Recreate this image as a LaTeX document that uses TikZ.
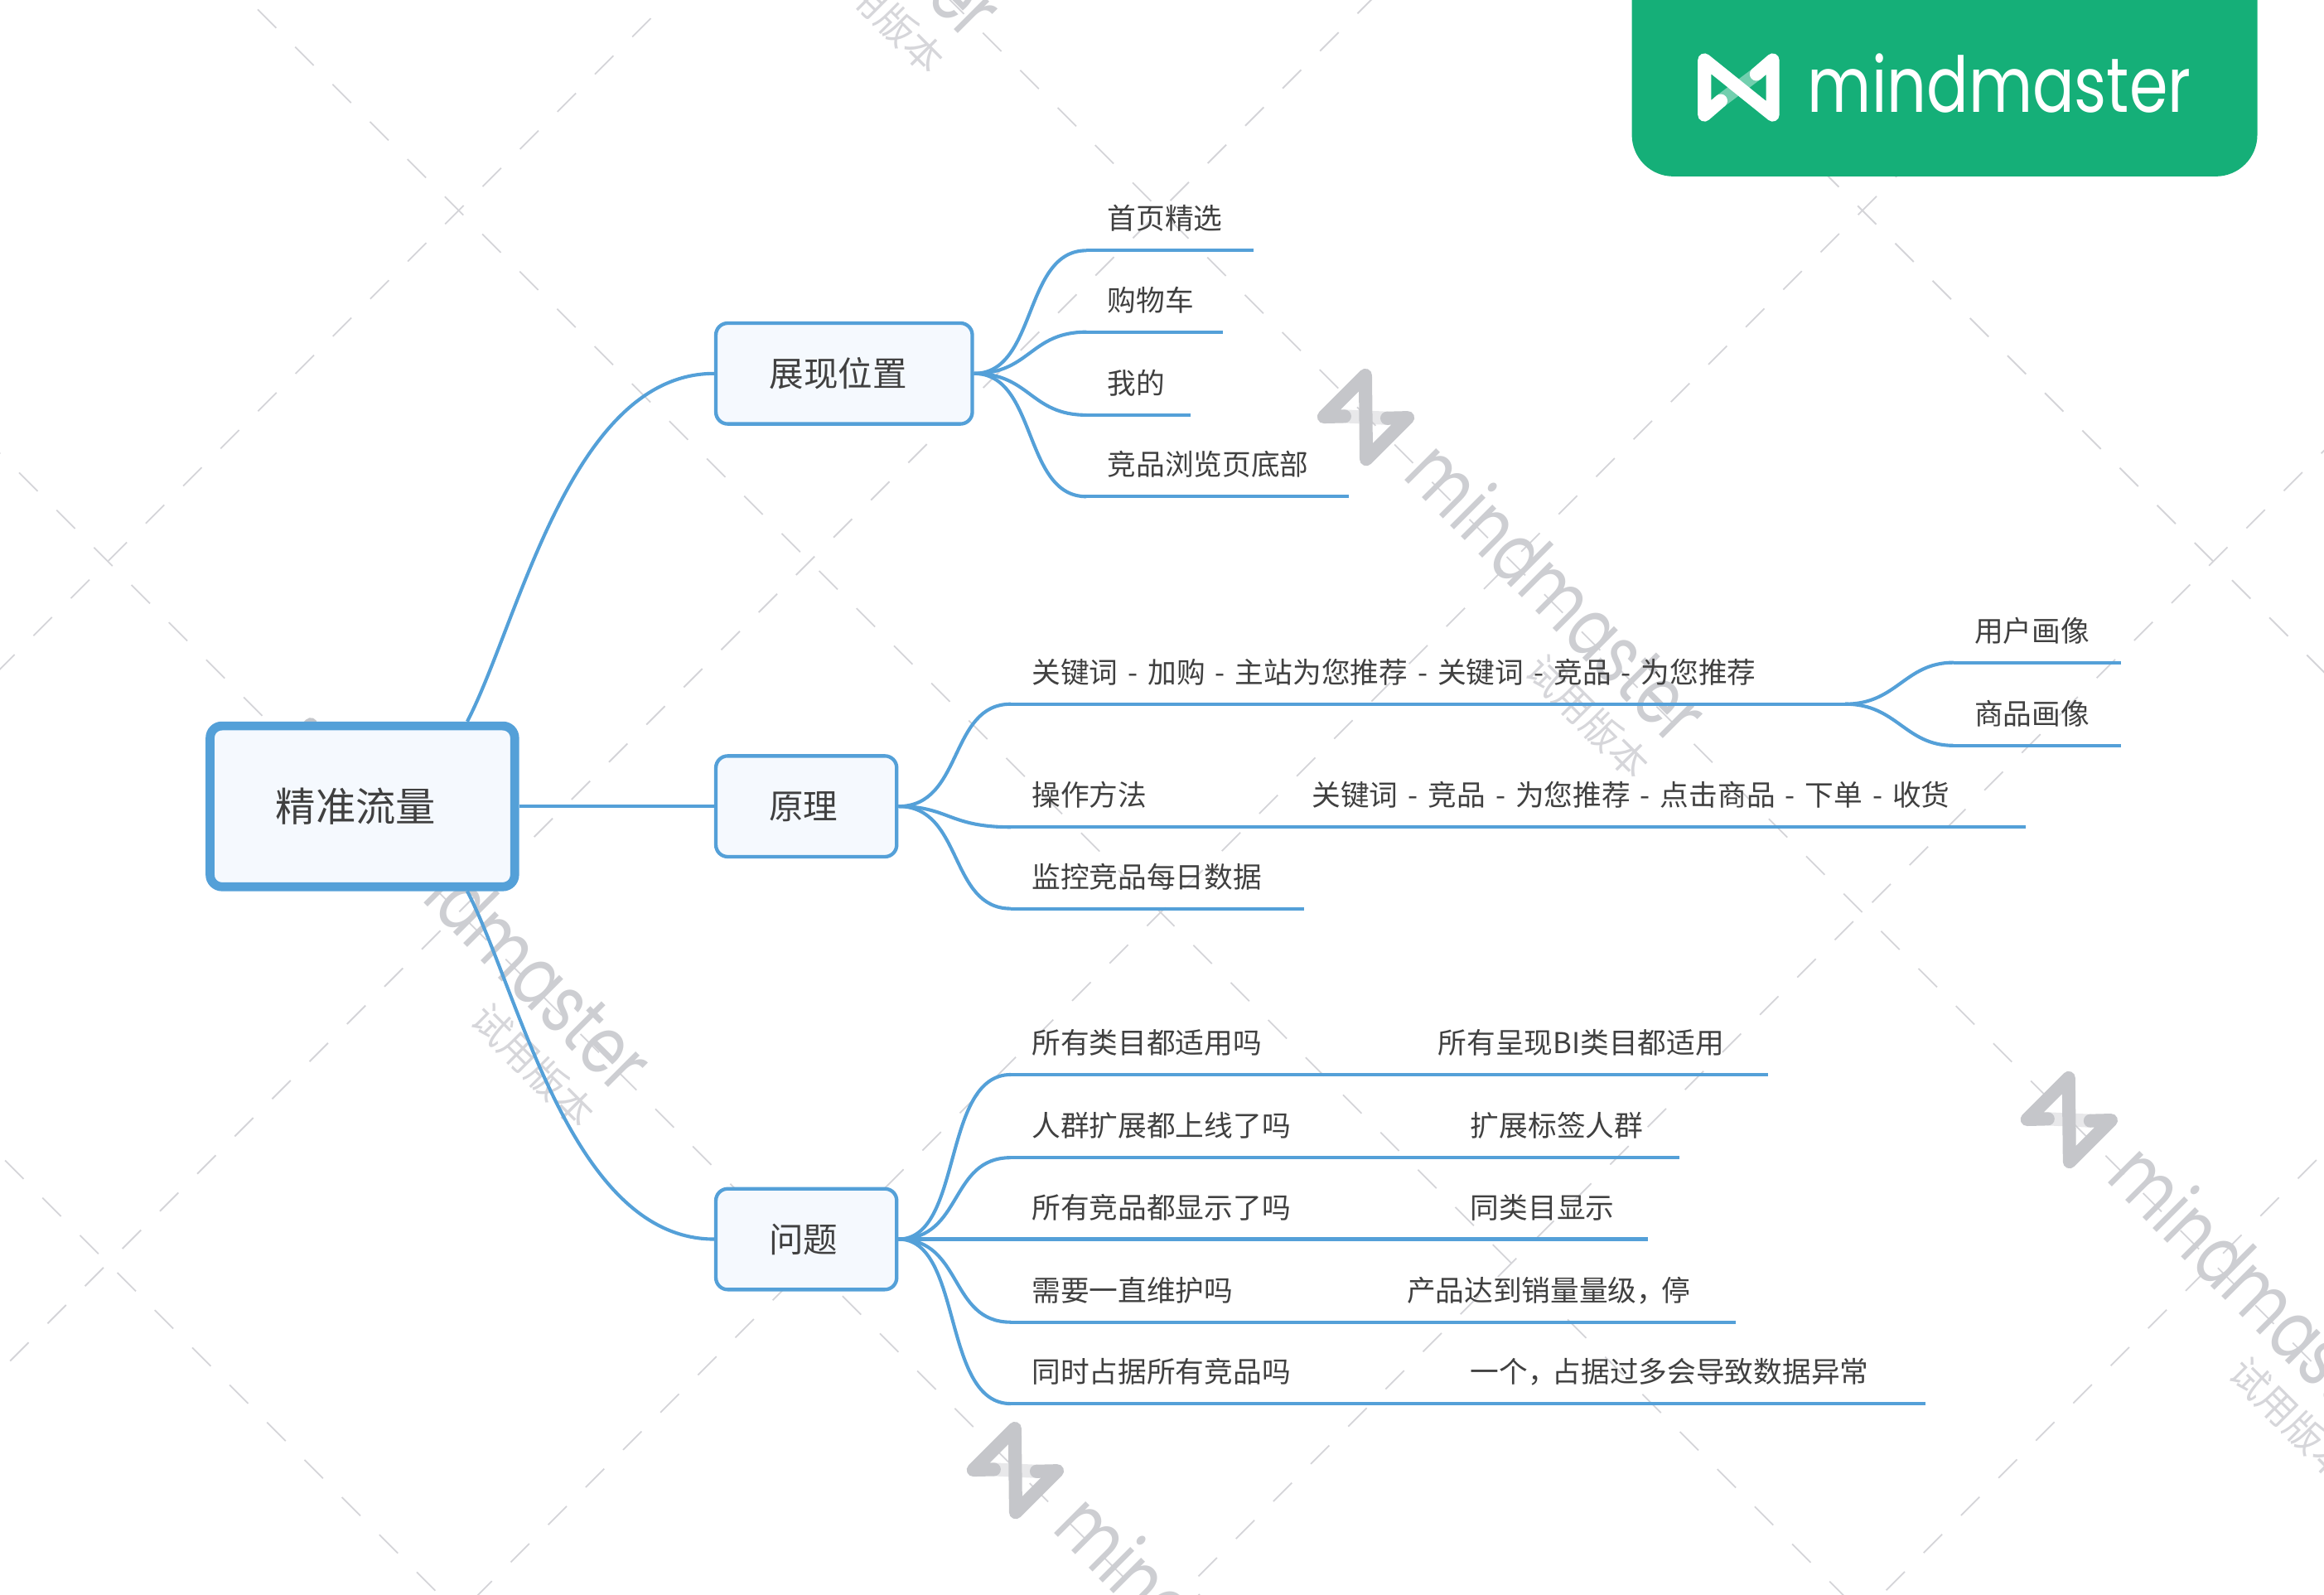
\documentclass[tikz,border=0pt]{standalone}
\usepackage{fontspec}
\setmainfont{Noto Sans CJK SC}
\newfontfamily\mmfont{Poppins}
\definecolor{mmblue}{HTML}{54A0D8}
\definecolor{mmfill}{HTML}{F5F9FE}
\definecolor{mmtext}{HTML}{404040}
\definecolor{mmgreen}{HTML}{15AF78}
\definecolor{wmgrey}{HTML}{CDCED2}
\definecolor{wmlogo}{HTML}{C5C6CA}
\definecolor{wmtrialc}{HTML}{D6D6DA}
\definecolor{wmline}{HTML}{D4D4D8}
\tikzset{
	rootbox/.style={draw=mmblue,fill=mmfill,line width=6pt,rounded corners=8pt,inner sep=0pt,text=mmtext,font=\fontsize{27}{27}\selectfont},
	topicbox/.style={draw=mmblue,fill=mmfill,line width=2.4pt,rounded corners=8pt,inner sep=0pt,minimum height=68pt,text=mmtext,font=\fontsize{23.2}{23.2}\selectfont},
	leaf/.style={anchor=base west,inner sep=0pt,yshift=14.2pt,text=mmtext,font=\fontsize{19.4}{19.4}\selectfont},
	twig/.style={draw=mmblue,line width=2.3pt},
	wmdash/.style={wmline,line width=1pt,dash pattern=on 17.7pt off 18.01pt},
	wmtitle/.style={text=wmgrey,inner sep=0pt,rotate=-45,xscale=.76,transform shape,font=\fontsize{55}{55}\mmfont},
	wmtrial/.style={text=wmtrialc,inner sep=0pt,rotate=-45,font=\fontsize{26}{26}\selectfont},
	pics/mmlogo/.style={code={
		\draw[#1,opacity=.4,line width=9pt,line cap=round] (-12,9)--(12,-9);
		\draw[#1,line width=9pt,line cap=round,line join=round] (-12,9)--(-23,18.5)--(-23,-18.5)--(23,18.5)--(23,-18.5)--(12,-9);
	}},
}
\newcommand{\widesep}{\spaceskip=6.7pt\relax}
\begin{document}
\begin{tikzpicture}[x=1pt,y=-1pt]
\useasboundingbox (0,0) rectangle (1568,1076);

\begin{scope}
\clip (0,0) rectangle (1568,1076);

\foreach \c in {451.5,925,1398.5,1872,2345.5}
	\draw[wmdash] ({(\c+167.5)/2+3.4+1010},{(\c-167.5)/2-3.4-1010})--++(-2300,2300);
\foreach \d in {-779.5,-306,167.5,641,1114.5}
	\draw[wmdash] ({(451.5+\d)/2-9.4-1010},{(451.5-\d)/2-9.4-1010})--++(2300,2300);

\foreach \lx/\ly in {446/-194,210/517,921.5/281.5,1396/755.5,685/992}{
	\pic[rotate=-45,xscale=.88,yscale=1.07] at (\lx,\ly) {mmlogo=wmlogo};
	\node[wmtitle] at (\lx+130,\ly+117) {mindmaster};
	\node[wmtrial] at (\lx+150,\ly+202) {试用版本};
}
\end{scope}

\fill[mmgreen,rounded corners=28pt] (1101,-50) rectangle (1523,119);
\pic at (1173,59) {mmlogo=white};
\node[anchor=base,text=white,inner sep=0pt,xscale=.805,transform shape,font=\fontsize{52}{52}\mmfont] at (1349,75.5) {mindmaster};

\def\leaf#1#2#3#4#5#6{
	\coordinate (#1s) at (#2,#4);
	\coordinate (#1e) at (#3,#4);
	\node[leaf] (#1) at (#5,#4) {#6};
	\draw[twig] (#1s)--(#1e);
}
\def\second#1#2#3#4{
	\node[leaf] (#1) at (#2,#3) {#4};
}

\node[rootbox,minimum width=205.5pt,minimum height=108.5pt] (root) at (244.5,544) {精准流量\kern9pt};
\node[topicbox,minimum width=173pt] (show) at (569.5,252) {展现位置\kern8pt};
\node[topicbox,minimum width=122pt] (prin) at (544,544) {原理\kern4pt};
\node[topicbox,minimum width=122pt] (ques) at (544,836) {问题\kern4pt};

\draw[twig] ([xshift=-35pt]root.north east) .. controls (350,420) and (385,252) .. (show.west);
\draw[twig] (root.east)--(prin.west);
\draw[twig] ([xshift=-35pt]root.south east) .. controls (350,668) and (385,836) .. (ques.west);

\leaf{home}{733}{846}{169}{747}{首页精选}
\leaf{cart}{733}{825}{224}{747}{购物车}
\leaf{mine}{733}{803}{280}{747}{我的}
\leaf{page}{733}{910}{335}{747}{竞品浏览页底部}

\draw[twig] (show.east) .. controls (700,252) and (690,169) .. (homes);
\draw[twig] (show.east) .. controls (695,252) and (695,224) .. (carts);
\draw[twig] (show.east) .. controls (695,252) and (695,280) .. (mines);
\draw[twig] (show.east) .. controls (700,252) and (690,335) .. (pages);

\leaf{path}{682}{1245}{475}{696}{\widesep 关键词 - 加购 - 主站为您推荐 - 关键词 - 竞品 - 为您推荐}
\leaf{oper}{682}{1367}{558}{696}{操作方法}
\second{operb}{885}{558}{\widesep 关键词 - 竞品 - 为您推荐 - 点击商品 - 下单 - 收货}
\leaf{data}{682}{880}{613}{696}{监控竞品每日数据}

\draw[twig] (prin.east) .. controls (650,544) and (640,475) .. (paths);
\draw[twig] (prin.east) .. controls (640,544) and (640,558) .. (opers);
\draw[twig] (prin.east) .. controls (650,544) and (640,613) .. (datas);

\leaf{user}{1318}{1431}{447}{1332}{用户画像}
\leaf{good}{1318}{1431}{503}{1332}{商品画像}

\draw[twig] (pathe) .. controls (1280,475) and (1285,447) .. (users);
\draw[twig] (pathe) .. controls (1280,475) and (1285,503) .. (goods);

\leaf{qa}{682}{1193}{725}{696}{所有类目都适用吗}
\second{qab}{970}{725}{所有呈现BI类目都适用}
\leaf{qb}{682}{1133}{781}{696}{人群扩展都上线了吗}
\second{qbb}{992}{781}{扩展标签人群}
\leaf{qc}{682}{1112}{836}{696}{所有竞品都显示了吗}
\second{qcb}{992}{836}{同类目显示}
\leaf{qd}{682}{1171}{892}{696}{需要一直维护吗}
\second{qdb}{949}{892}{产品达到销量量级，\kern-3pt 停}
\leaf{qe}{682}{1299}{947}{696}{同时占据所有竞品吗}
\second{qeb}{992}{947}{一个，\kern-3pt 占据过多会导致数据异常}

\draw[twig] (ques.east) .. controls (650,836) and (635,725) .. (qas);
\draw[twig] (ques.east) .. controls (650,836) and (640,781) .. (qbs);
\draw[twig] (ques.east)--(qcs);
\draw[twig] (ques.east) .. controls (650,836) and (640,892) .. (qds);
\draw[twig] (ques.east) .. controls (650,836) and (635,947) .. (qes);

\end{tikzpicture}
\end{document}
